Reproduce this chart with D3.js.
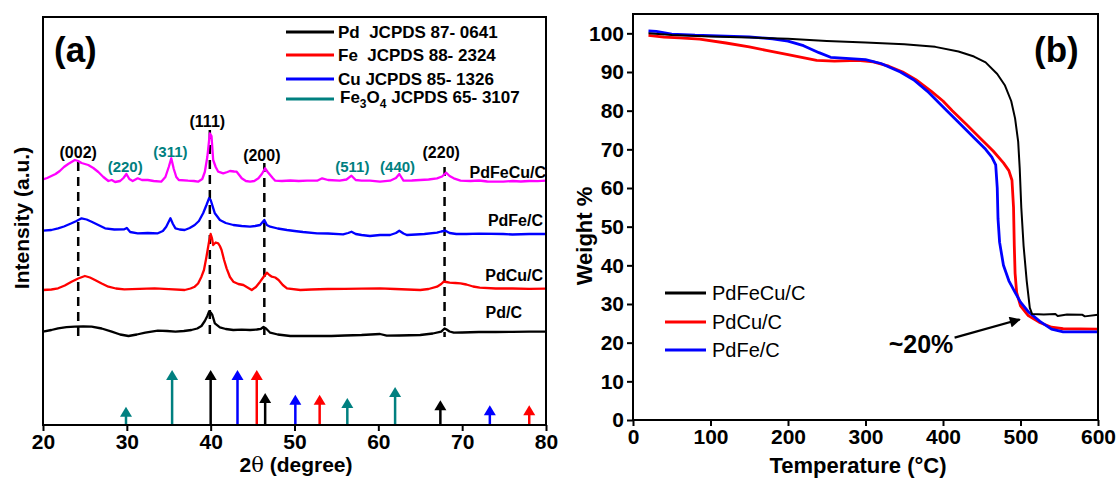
<!DOCTYPE html>
<html lang="en">
<head>
    <meta charset="UTF-8">
    <title>XRD and TGA</title>
    <style>
        body{ margin:0; background:#fff; }
        svg{ display:block; font-family:"Liberation Sans", Arial, sans-serif; }
    </style>
</head>
<body>
    <script src="https://cdnjs.cloudflare.com/ajax/libs/d3/7.8.2/d3.min.js"></script>
    <script>

        // ---- panel (a): XRD patterns, [2theta, intensity a.u.]
        const pdFeCu = [[20,245.7],[20.5,247],[21,249],[21.5,251],[22,254],[22.5,258],[23,261],[23.4,263],[23.8,265],[24.2,264],[24.6,262],[25,261],[25.4,260],[26,257],[26.6,253],[27.2,248],[27.8,244],[28.2,245],[28.6,243],[29.2,244],[29.6,247],[29.95,251],[30.3,246],[30.7,244],[31.3,246.7],[31.8,245],[32.5,245],[33.2,244],[34.1,243.3],[34.6,248],[35,258],[35.3,266.7],[35.6,256],[35.9,248],[36.2,245],[37.3,244.3],[38,244],[38.5,243.3],[39,246],[39.3,253],[39.6,268],[39.9,291.7],[40.1,289],[40.3,265],[40.6,258],[40.9,253.3],[41.5,251.7],[42,253],[42.3,254],[42.8,253.5],[43.1,253.3],[43.5,249],[43.7,246.7],[44.2,244],[44.7,243.3],[45.2,244],[45.7,246.7],[46.1,251],[46.5,256.7],[46.8,253],[47.1,250],[47.4,247],[47.7,244.3],[48.5,244],[49.5,244.5],[50.5,244],[51.5,244.3],[52.7,244.3],[53.3,246.7],[54,245],[55.4,244.3],[56.2,245.5],[56.8,249.3],[57.3,245],[58,244.3],[59,244.3],[60.2,243.3],[61.4,244.3],[62.1,247],[62.5,251],[62.8,247],[63,244.3],[64,244.5],[65,245],[66,245.5],[67,246.7],[67.6,248.5],[68.1,252.3],[68.5,249],[69,246.7],[69.8,244.3],[71,244],[72,244.5],[73,243.5],[74.9,243.3],[76,244],[77,243.5],[78,244],[79,243.8],[80,244.3]];
        const pdFe = [[20,194.3],[21,195],[21.8,196.7],[22.5,198.5],[23.4,201.7],[24,204],[24.6,206.7],[25.2,205.5],[25.8,203.3],[26.6,200],[27.4,196.7],[28.5,195.5],[29.7,195.7],[30,197],[30.4,193],[31.3,191.7],[32.5,192],[33.7,191.7],[34.3,194],[34.7,198.3],[35.2,206.7],[35.5,201],[35.8,196.7],[36.3,195.5],[36.9,195],[37.5,197],[38.1,200],[38.6,204],[39.1,211.7],[39.5,220],[39.8,226.7],[40,225],[40.5,211.7],[41.1,205],[41.8,202],[42.7,200],[43.7,199],[44.7,198.3],[45.3,199],[45.9,200],[46.4,205],[46.7,200],[47.1,198.3],[48,196.5],[49.1,195],[50,194],[51,193],[52.7,191.7],[54,191.5],[55.8,190.7],[56.4,192],[56.8,193.3],[57.3,191],[58,190],[59,189],[60.2,190],[61.4,190],[62.1,192],[62.5,194.3],[63,191.5],[63.4,190],[64.5,190.5],[65.5,191],[67,192.3],[67.5,193.5],[68,194.3],[68.5,192],[69.3,191],[70.5,191],[72,191.3],[74.9,191],[76,190.5],[78,191],[80,191]];
        const pdCu = [[20,135],[21,135.5],[21.8,136.7],[22.6,139.5],[23.4,143.3],[24.2,146.5],[25,149],[25.6,147.5],[26.2,145],[27,141.5],[27.8,138.3],[28.7,136.5],[29.7,135.7],[31.5,136.2],[33.3,136.7],[35,135.8],[36.9,135],[37.6,136.5],[38.1,138.3],[38.5,141.5],[38.9,148.3],[39.2,155],[39.5,168.3],[39.8,183],[40,191],[40.15,187],[40.3,180],[40.6,182.5],[40.9,181.7],[41.1,179],[41.3,175],[41.6,165],[41.9,156.7],[42.3,148],[42.7,143.3],[43.3,141],[43.9,140],[44.4,137.5],[44.9,135],[45.4,138],[45.9,143.3],[46.3,148],[46.7,152.3],[47,150],[47.3,148.3],[47.7,147.5],[48.1,145],[48.6,140],[49.1,136.7],[50.7,135],[52,135.5],[54,136],[56,136.2],[58,136.3],[60.2,136.7],[62,136],[63.5,135.5],[65,135],[66,136],[67,138.3],[67.5,141],[67.8,143.3],[68.1,143],[68.5,142.3],[69.2,142],[69.8,141.7],[70.5,140.5],[71.3,138.5],[72.1,137.3],[74,136.5],[76,136.5],[78,136.2],[80,136.3]];
        const pdC = [[20,93.3],[21,95],[21.8,96.7],[22.8,97.8],[23.8,98.3],[24.8,98.5],[25.8,98.3],[27,96.5],[28.2,93.3],[29.2,90.5],[30.2,89],[31.2,90.5],[32.2,92.3],[33.7,94.3],[34.8,94],[35.8,93.3],[36.8,94],[37.7,95],[38.4,96.5],[38.9,99],[39.3,104],[39.6,109],[39.8,113.3],[40,112.5],[40.2,110],[40.5,101.7],[41.1,97.7],[41.8,96],[42.7,95],[43.7,95.3],[44.7,95],[45.5,95.5],[46,96.2],[46.3,98],[46.6,96.5],[47.1,92.3],[48,90.5],[49.5,89],[51,89.2],[52.5,89],[54.4,89],[56,89.5],[58,90],[60.2,91],[61,89.3],[62.5,89.5],[65,90],[66.5,91.5],[67.5,93.3],[67.9,96.5],[68.1,95.7],[68.5,93.5],[69,92.3],[70,92.5],[72,93],[74,93],[76,93.2],[78,93.3],[80,93.3]];

        const xrdNames = ["PdFeCu/C", "PdFe/C", "PdCu/C", "Pd/C"];

        // dashed guide lines: [2theta, top a.u., bottom a.u.]
        const guides = [[24.2,263,88],[39.9,295,88],[46.4,262,90],[67.9,258,88]];

        // peak labels: [text, 2theta, a.u., kind]
        const peakLabels = [["(002)",24.2,267,"pd"],["(220)",29.8,253,"ox"],["(311)",35.2,268,"ox"],["(111)",39.6,298,"pd"],["(200)",46.1,264,"pd"],["(511)",56.9,253,"ox"],["(440)",62.3,253,"ox"],["(220)",67.5,267,"pd"]];

        // reference lines, [2theta, relative intensity]
        const refPd = [[40.0,100],[46.5,58],[67.4,45]];
        const refFe = [[45.5,100],[53.0,55],[78.0,36]];
        const refCu = [[43.2,100],[50.1,55],[73.3,36]];
        const refFe3O4 = [[29.9,33],[35.4,100],[56.3,49],[62.0,69]];

        // ---- panel (b): TGA, [temperature C, weight %]
        const tgaPdFeCu = [[20,100],[50,99.6],[100,99.2],[150,98.9],[200,98.6],[250,98],[300,97.6],[350,97.2],[390,96.5],[420,95.3],[440,94],[455,92.5],[470,89.5],[480,86.5],[488,82.5],[493,78],[497,72],[499,65],[501,55],[504,45],[508,36],[512,29],[515,27.4],[530,27.3],[545,27.4],[548,26.9],[560,27.3],[580,27.2],[583,26.8],[600,27.2]];
        const tgaPdCu = [[20,99.5],[40,99],[60,98.8],[86,98.5],[120,97.5],[150,96.5],[172,95.6],[200,94.5],[237,93],[260,92.8],[290,93],[310,92.6],[330,91.5],[348,90],[365,88],[385,85],[400,82.5],[412,80],[430,76.5],[450,72.5],[465,69.5],[478,66.5],[485,64.5],[489,62],[491,55],[492,45],[493,38],[495,33],[500,29.5],[510,27],[524,25.3],[540,24],[555,23.6],[600,23.5]];
        const tgaPdFe = [[20,100.6],[30,100.5],[50,99.8],[80,99.5],[120,99.3],[150,99.1],[180,98.6],[200,98],[220,96.8],[240,95],[255,93.8],[270,93.6],[300,93.2],[320,92.2],[345,90],[362,88],[380,85],[395,82],[405,80],[420,77],[440,73],[455,70],[463,68],[468,66],[470,60],[471,52],[473,46],[478,40],[485,36],[493,33],[500,30.5],[510,28],[525,25.5],[540,23.5],[555,22.8],[600,22.8]];
        const tgaNames = ["PdFeCu/C", "PdCu/C", "PdFe/C"];

        const w = 1116, h = 479;
        const teal = "#008080";

        const svg = d3.select("body").append("svg")
            .attr("width", w).attr("height", h);

        // ================= panel (a)
        const xA = d3.scaleLinear().domain([20,80]).range([43,546]);
        const yA = d3.scaleLinear().domain([0,408]).range([425,17]);
        const yRef = d3.scaleLinear().domain([0,100]).range([425,370]);

        const ga = svg.append("g");

        const lineA = d3.line().x(d => xA(d[0])).y(d => yA(d[1]));

        ga.selectAll(".guide").data(guides).enter().append("line")
            .attr("x1", d => xA(d[0])).attr("x2", d => xA(d[0]))
            .attr("y1", d => yA(d[1])).attr("y2", d => yA(d[2]))
            .attr("stroke", "#000").attr("stroke-width", 2.5)
            .attr("stroke-dasharray", "9,6");

        const xrd = [pdFeCu, pdFe, pdCu, pdC];
        const xrdColors = ["#ff00ff", "#0000ff", "#ff0000", "#000"];
        xrd.forEach((s, i) => {
            ga.append("path").datum(s)
                .attr("d", lineA)
                .attr("fill", "none")
                .attr("stroke", xrdColors[i])
                .attr("stroke-width", 2.3)
                .attr("stroke-linejoin", "round");
        });

        // sample names
        const nameY = [178, 226, 281, 318];
        const nameRight = [546, 543, 543, 522];
        xrdNames.forEach((n, i) => {
            ga.append("text").text(n)
                .attr("x", nameRight[i]).attr("y", nameY[i])
                .attr("text-anchor", "end")
                .attr("font-size", 16).attr("font-weight", "bold");
        });

        ga.selectAll(".peak").data(peakLabels).enter().append("text")
            .text(d => d[0])
            .attr("x", d => xA(d[1])).attr("y", d => yA(d[2]))
            .attr("text-anchor", "middle")
            .attr("font-size", d => d[3] == "pd" ? 16 : 15)
            .attr("font-weight", "bold")
            .attr("fill", d => d[3] == "pd" ? "#000" : teal);

        // reference arrows
        const refs = [[refFe3O4, teal], [refPd, "#000"], [refCu, "#0000ff"], [refFe, "#ff0000"]];
        refs.forEach(([arr, c]) => {
            arr.forEach(d => {
                const x = xA(d[0]), top = yRef(d[1]);
                ga.append("line")
                    .attr("x1", x).attr("x2", x)
                    .attr("y1", yRef(0)).attr("y2", top + 8)
                    .attr("stroke", c).attr("stroke-width", 2.5);
                ga.append("path")
                    .attr("d", `M${x-6},${top+10}L${x+6},${top+10}L${x},${top}Z`)
                    .attr("fill", c);
            });
        });

        // frame and axis
        ga.append("rect").attr("x", 43).attr("y", 17)
            .attr("width", 503).attr("height", 408)
            .attr("fill", "none").attr("stroke", "#000").attr("stroke-width", 2);

        const axA = ga.append("g").attr("transform", "translate(0,425)")
            .call(d3.axisBottom(xA).tickValues(d3.range(20,81,10)).tickSize(6).tickPadding(3));
        axA.select(".domain").remove();
        axA.selectAll("line").attr("stroke-width", 2);
        axA.selectAll("text").attr("font-size", 21).attr("font-weight", "bold")
            .attr("font-family", "Liberation Sans, Arial, sans-serif");

        ga.append("text")
            .attr("transform", "translate(29,218) rotate(-90)")
            .attr("text-anchor", "middle")
            .attr("font-size", 21).attr("font-weight", "bold")
            .text("Intensity (a.u.)");

        const t2 = ga.append("text").attr("x", 296).attr("y", 472)
            .attr("text-anchor", "middle").attr("font-size", 21).attr("font-weight", "bold");
        t2.append("tspan").text("2");
        t2.append("tspan").attr("font-family", "DejaVu Serif, serif").attr("font-weight", "normal").text("θ");
        t2.append("tspan").text(" (degree)");

        ga.append("text").attr("x", 54).attr("y", 62)
            .attr("font-size", 35).attr("font-weight", "bold").text("(a)");

        // legend for reference cards
        const cards = [["Pd  JCPDS 87- 0641", "#000"], ["Fe  JCPDS 88- 2324", "#ff0000"], ["Cu JCPDS 85- 1326", "#0000ff"], ["Fe3O4", teal]];
        const cardY = [32, 55, 79, 99];
        cards.forEach((c, i) => {
            ga.append("line").attr("x1", 286).attr("x2", 334)
                .attr("y1", cardY[i]).attr("y2", cardY[i])
                .attr("stroke", c[1]).attr("stroke-width", 3);
            const t = ga.append("text").attr("x", 338).attr("y", cardY[i] + 6)
                .attr("font-size", 17).attr("font-weight", "bold");
            if (c[0] == "Fe3O4") {
                t.attr("y", cardY[i] + 4).attr("x", 340);
                t.append("tspan").text("Fe");
                t.append("tspan").attr("font-size", 12).attr("dy", 5).text("3");
                t.append("tspan").attr("dy", -5).text("O");
                t.append("tspan").attr("font-size", 12).attr("dy", 5).text("4");
                t.append("tspan").attr("dy", -5).text(" JCPDS 65- 3107");
            } else {
                t.attr("xml:space", "preserve").style("white-space", "pre").text(c[0]);
            }
        });

        // ================= panel (b)
        const xB = d3.scaleLinear().domain([0,600]).range([633,1098]);
        const yB = d3.scaleLinear().domain([0,105]).range([420,14]);
        const gb = svg.append("g");

        const lineB = d3.line().x(d => xB(d[0])).y(d => yB(d[1]));
        const tga = [tgaPdFeCu, tgaPdCu, tgaPdFe];
        const tgaColors = ["#000", "#ff0000", "#0000ff"];
        const tgaWidths = [2, 2.8, 2.8];
        [1, 2, 0].forEach(i => {
            gb.append("path").datum(tga[i])
                .attr("d", lineB).attr("fill", "none")
                .attr("stroke", tgaColors[i]).attr("stroke-width", tgaWidths[i])
                .attr("stroke-linejoin", "round");
        });

        gb.append("rect").attr("x", 633).attr("y", 14)
            .attr("width", 465).attr("height", 406)
            .attr("fill", "none").attr("stroke", "#000").attr("stroke-width", 2);

        const axBx = gb.append("g").attr("transform", "translate(0,420)")
            .call(d3.axisBottom(xB).tickValues(d3.range(0,601,100)).tickSize(6).tickPadding(3));
        const axBy = gb.append("g").attr("transform", "translate(633,0)")
            .call(d3.axisLeft(yB).tickValues(d3.range(0,101,10)).tickSize(6).tickPadding(3));
        [axBx, axBy].forEach(a => {
            a.select(".domain").remove();
            a.selectAll("line").attr("stroke-width", 2);
            a.selectAll("text").attr("font-size", 21).attr("font-weight", "bold")
                .attr("font-family", "Liberation Sans, Arial, sans-serif");
        });

        gb.append("text")
            .attr("transform", "translate(592,236) rotate(-90)")
            .attr("text-anchor", "middle")
            .attr("font-size", 22).attr("font-weight", "bold")
            .text("Weight %");

        gb.append("text").attr("x", 858).attr("y", 473)
            .attr("text-anchor", "middle").attr("font-size", 22).attr("font-weight", "bold")
            .text("Temperature (°C)");

        gb.append("text").attr("x", 1034).attr("y", 62)
            .attr("font-size", 35).attr("font-weight", "bold").text("(b)");

        const legY = [293, 322, 350];
        tgaNames.forEach((n, i) => {
            gb.append("line").attr("x1", 665).attr("x2", 706)
                .attr("y1", legY[i]).attr("y2", legY[i])
                .attr("stroke", tgaColors[i]).attr("stroke-width", 2.8);
            gb.append("text").attr("x", 712).attr("y", legY[i] + 7)
                .attr("font-size", 20).text(n);
        });

        // ~20% note and arrow
        svg.append("defs").append("marker")
            .attr("id", "ah").attr("viewBox", "0 0 10 10")
            .attr("refX", 9).attr("refY", 5)
            .attr("markerWidth", 6).attr("markerHeight", 5)
            .attr("orient", "auto")
            .append("path").attr("d", "M0,0L10,5L0,10Z").attr("fill", "#000");

        gb.append("line")
            .attr("x1", xB(415)).attr("y1", yB(21.3))
            .attr("x2", xB(499)).attr("y2", yB(26))
            .attr("stroke", "#000").attr("stroke-width", 2.2)
            .attr("marker-end", "url(#ah)");

        gb.append("text").attr("x", 921).attr("y", 353)
            .attr("text-anchor", "middle").attr("font-size", 25).attr("font-weight", "bold")
            .text("~20%");

    </script>
</body>
</html>
